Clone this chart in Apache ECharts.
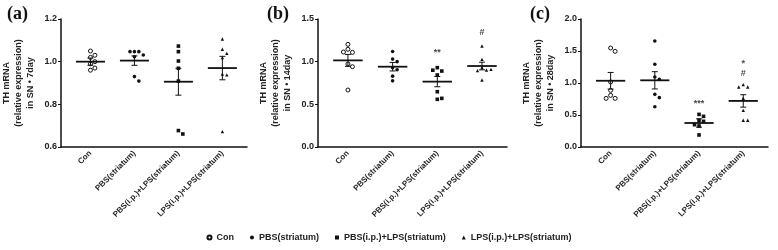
<!DOCTYPE html>
<html>
<head>
<meta charset="utf-8">
<script src="https://cdn.jsdelivr.net/npm/echarts@6/dist/echarts.min.js"></script>
<style>
html, body { margin: 0; padding: 0; background: #fff; }
#chart { width: 778px; height: 250px; }
</style>
</head>
<body>
<div id="chart"></div>
<script>
// groups
var categories = ['Con', 'PBS(striatum)', 'PBS(i.p.)+LPS(striatum)', 'LPS(i.p.)+LPS(striatum)'];
var dayLabels = ['7day', '14day', '28day'];

// (a) 7 day
var con7 = [1.05, 1.03, 1.02, 1.00, 0.99, 0.97, 0.96];
var pbs7 = [1.047, 1.047, 1.047, 1.031, 1.023, 0.930, 0.909];
var pbsLps7 = [1.073, 1.047, 1.003, 0.969, 0.909, 0.677, 0.661];
var lpsLps7 = [1.106, 1.058, 1.039, 1.019, 0.942, 0.938, 0.672];
var mean7 = [1.0, 1.005, 0.906, 0.970];
var sem7 = [0.017, 0.022, 0.063, 0.055];

// (b) 14 day
var con14 = [1.203, 1.145, 1.109, 1.113, 0.973, 0.941, 0.668];
var pbs14 = [1.12, 1.03, 1.0, 0.93, 0.905, 0.83, 0.775];
var pbsLps14 = [0.93, 0.89, 0.90, 0.844, 0.648, 0.559, 0.570];
var lpsLps14 = [1.184, 1.027, 0.930, 0.902, 0.895, 0.91, 0.785];
var mean14 = [1.015, 0.941, 0.766, 0.949];
var sem14 = [0.07, 0.05, 0.06, 0.045];

// (c) 28 day
var con28 = [1.547, 1.495, 1.016, 0.885, 0.807, 0.76, 0.76];
var pbs28 = [1.656, 1.292, 1.094, 1.057, 0.823, 0.771, 0.63];
var pbsLps28 = [0.51, 0.479, 0.417, 0.401, 0.328, 0.349, 0.188];
var lpsLps28 = [0.974, 0.937, 0.937, 0.76, 0.573, 0.417, 0.417];
var mean28 = [1.035, 1.042, 0.375, 0.72];
var sem28 = [0.13, 0.135, 0.065, 0.097];

// y axes: min, max, interval
var yMin = [0.6, 0, 0];
var yMax = [1.2, 1.5, 2.0];
var yStep = [0.2, 0.5, 0.5];

// significance marks (panel 0=a,1=b,2=c; group position 1..4)
var annoPanel = [1, 1, 2, 2, 2];
var annoGroup = [3, 4, 3, 4, 4];
var annoY = [1.105, 1.34, 0.677, 1.30, 1.146];
var annoText = ['**', '#', '***', '*', '#'];

var panels = [
	[con7, pbs7, pbsLps7, lpsLps7],
	[con14, pbs14, pbsLps14, lpsLps14],
	[con28, pbs28, pbsLps28, lpsLps28]
];
var means = [mean7, mean14, mean28];
var sems = [sem7, sem14, sem28];

var gridLeft = [58, 318, 581];
var gridW = [189, 189, 187];
var gridTop = 19, gridH = 128;
var xMin = 0.33, xMax = 4.56;
var font = 'Liberation Sans, Arial, sans-serif';
var ink = '#111';

var symbols = ['circle', 'circle', 'rect', 'triangle'];
var sizes = [4, 3.6, 3.6, 3.4];

//简单的蜂群排列，避免点重叠
function swarm(vals, p, g) {
	var pxPerY = gridH / (yMax[p] - yMin[p]);
	var pxPerX = gridW[p] / (xMax - xMin);
	var placed = [];
	var out = [];
	for (var i = 0; i < vals.length; i++) {
		var y = vals[i] * pxPerY;
		var steps = [0, 1, -1, 2, -2, 3, -3];
		for (var k = 0; k < steps.length; k++) {
			var x = steps[k] * 4.5;
			var ok = true;
			for (var j = 0; j < placed.length; j++) {
				var dx = placed[j][0] - x, dy = placed[j][1] - y;
				if (dx * dx + dy * dy < 4.5 * 4.5) { ok = false; break; }
			}
			if (ok) break;
		}
		placed.push([x, y]);
		out.push([g + 1 + x / pxPerX, vals[i]]);
	}
	return out;
}

var grid = [], xAxis = [], yAxis = [], series = [], title = [];
for (var p = 0; p < 3; p++) {
	grid.push({ left: gridLeft[p], top: gridTop, width: gridW[p], height: gridH });
	title.push({
		text: '(' + 'abc'[p] + ')',
		left: gridLeft[p] - 56, top: 0,
		textStyle: { fontFamily: 'Liberation Serif, serif', fontSize: 18, fontWeight: 'bold', color: ink }
	});
	xAxis.push({
		type: 'value', gridIndex: p, min: xMin, max: xMax,
		splitLine: { show: false },
		axisLine: { show: true, onZero: false, lineStyle: { color: ink, width: 1.5 } },
		axisTick: { show: false },
		axisLabel: {
			customValues: [1, 2, 3, 4],
			rotate: 45, margin: 5,
			fontSize: 8, fontWeight: 'bold', fontFamily: font, color: '#222',
			formatter: function(v) { return categories[Math.round(v) - 1]; }
		}
	});
	yAxis.push({
		type: 'value', gridIndex: p, min: yMin[p], max: yMax[p], interval: yStep[p],
		splitLine: { show: false },
		axisLine: { show: true, lineStyle: { color: ink, width: 1.5 } },
		axisTick: { show: true, length: 3, lineStyle: { color: ink, width: 1 } },
		axisLabel: {
			margin: 4, fontSize: 9, fontWeight: 'bold', fontFamily: font, color: '#222',
			formatter: function(v) { return v.toFixed(1); }
		},
		name: 'TH mRNA\n(relative expression)\nin SN • ' + dayLabels[p],
		nameLocation: 'middle', nameRotate: 90, nameGap: 24,
		nameTextStyle: { fontSize: 9, fontWeight: 'bold', fontFamily: font, color: '#222', lineHeight: 12 }
	});

	for (var g = 0; g < 4; g++) {
		series.push({
			name: categories[g],
			type: 'scatter',
			xAxisIndex: p, yAxisIndex: p,
			symbol: symbols[g], symbolSize: sizes[g],
			itemStyle: g == 0 ? { color: '#fff', borderColor: ink, borderWidth: 1, opacity: 1 } : { color: ink, opacity: 1 },
			data: swarm(panels[p][g], p, g),
			z: 2
		});
	}

	// 均值和SEM
	var ms = [];
	for (var g2 = 0; g2 < 4; g2++) ms.push([g2 + 1, means[p][g2], sems[p][g2]]);
	series.push({
		type: 'custom',
		xAxisIndex: p, yAxisIndex: p,
		clip: false, z: 3,
		renderItem: function(params, api) {
			var x = api.value(0), m = api.value(1), s = api.value(2);
			var l = api.coord([x - 0.33, m]), r = api.coord([x + 0.33, m]);
			var t = api.coord([x, m + s]), b = api.coord([x, m - s]);
			var c = 3;
			var st = { stroke: ink, lineWidth: 1 };
			return {
				type: 'group',
				children: [
					{ type: 'line', shape: { x1: l[0], y1: l[1], x2: r[0], y2: r[1] }, style: { stroke: ink, lineWidth: 1.8 } },
					{ type: 'line', shape: { x1: t[0], y1: t[1], x2: b[0], y2: b[1] }, style: st },
					{ type: 'line', shape: { x1: t[0] - c, y1: t[1], x2: t[0] + c, y2: t[1] }, style: st },
					{ type: 'line', shape: { x1: b[0] - c, y1: b[1], x2: b[0] + c, y2: b[1] }, style: st }
				]
			};
		},
		data: ms
	});

	// 显著性标记
	var an = [];
	for (var k = 0; k < annoPanel.length; k++) {
		if (annoPanel[k] == p) an.push({ value: [annoGroup[k], annoY[k]], name: annoText[k] });
	}
	if (an.length) {
		series.push({
			type: 'scatter',
			xAxisIndex: p, yAxisIndex: p,
			symbolSize: 2, itemStyle: { color: 'rgba(0,0,0,0)' },
			label: {
				show: true, position: 'inside', formatter: '{b}',
				fontSize: 9, fontWeight: 'bold', fontFamily: font, color: ink
			},
			data: an, z: 4
		});
	}
}

var myChart = echarts.init(document.getElementById('chart'));
var option = {
	animation: false,
	title: title,
	grid: grid,
	xAxis: xAxis,
	yAxis: yAxis,
	legend: {
		data: categories,
		bottom: 3, left: 'center',
		itemWidth: 4, itemHeight: 4, itemGap: 16,
		textStyle: { fontSize: 9, fontWeight: 'bold', fontFamily: font, color: '#222' }
	},
	series: series
};
myChart.setOption(option);
</script>
</body>
</html>
